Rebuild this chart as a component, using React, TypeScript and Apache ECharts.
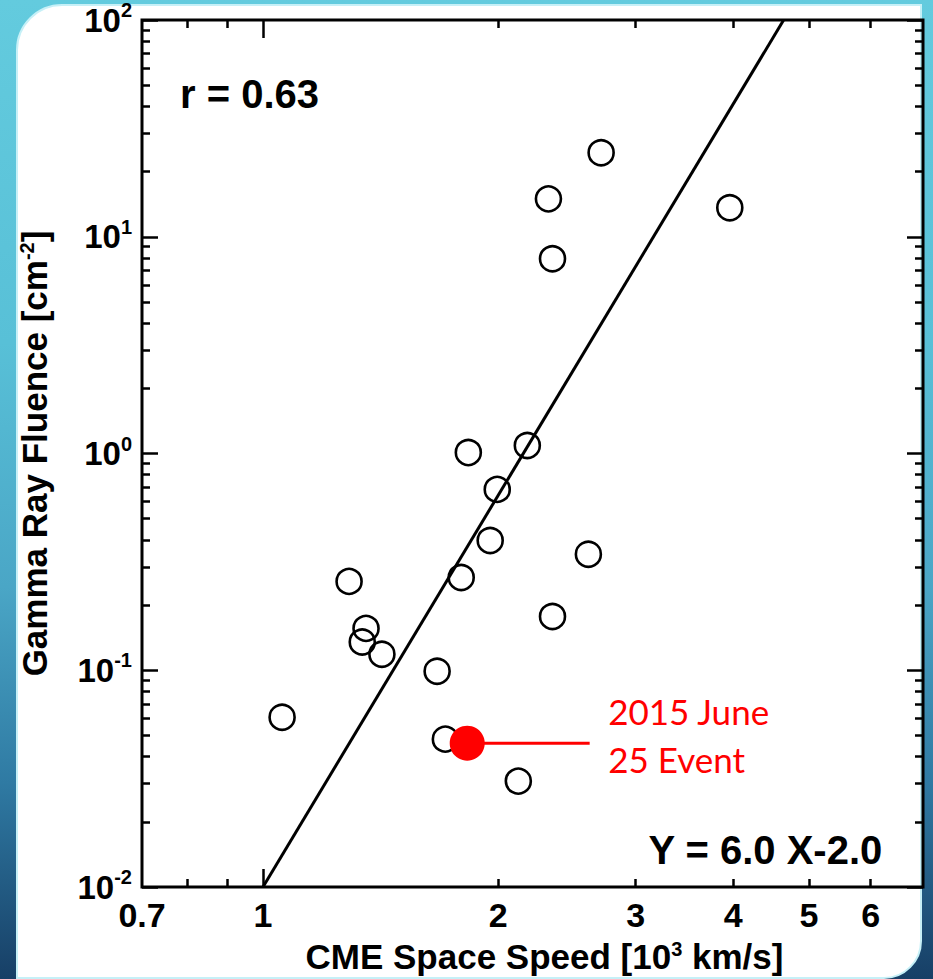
import React, { useEffect, useRef } from "react";
import * as echarts from "echarts";

// CME space speed [10^3 km/s] and gamma-ray fluence [cm^-2] (open circles)
const speedX = [1.058, 1.289, 1.355, 1.34, 1.42, 1.671, 1.712, 1.794, 1.832, 1.954, 1.995, 2.123, 2.18, 2.348, 2.61, 2.348, 2.32, 2.71, 3.96];
const fluenceY = [0.0607, 0.257, 0.156, 0.135, 0.1185, 0.0989, 0.0481, 0.268, 1.01, 0.397, 0.683, 0.0308, 1.089, 0.177, 0.343, 7.92, 14.96, 24.4, 13.6];

// 2015 June 25 event (red dot)
const eventX = [1.826];
const eventY = [0.0461];
const calloutEndX = 2.62;
const eventLabel = "2015 June\n25 Event";

// fit line: log Y = 6.0 log X - 2.0
const fitX = [1, 4.6416];
const fitY = [0.01, 100];

// axes
const xMin = 0.7;
const xMax = 7;
const yMin = 0.01;
const yMax = 100;
const xTickLabels = [0.7, 1, 2, 3, 4, 5, 6];
const xMajorTicks = [1];
const xMinorTicks = [0.8, 0.9, 2, 3, 4, 5, 6];
const yMajorTicks = [0.01, 0.1, 1, 10, 100];
const yMinorTicks = [
  0.02, 0.03, 0.04, 0.05, 0.06, 0.07, 0.08, 0.09,
  0.2, 0.3, 0.4, 0.5, 0.6, 0.7, 0.8, 0.9,
  2, 3, 4, 5, 6, 7, 8, 9,
  20, 30, 40, 50, 60, 70, 80, 90,
];

const rText = "r = 0.63";
const eqText = "Y = 6.0 X-2.0";
const xTitle = "CME Space Speed [10{s|3} km/s]";
const yTitle = "Gamma Ray Fluence [cm{s|-2}]";

const FONT = '"Liberation Sans", Arial, Helvetica, sans-serif';

export default function App() {
  const ref = useRef<HTMLDivElement>(null);

  useEffect(() => {
    if (!ref.current) return;
    const chart = echarts.init(ref.current, undefined, { renderer: "svg" });

    const tickStyle = { color: "#000", width: 2.5 };
    const hiddenLabel = { show: false };
    const supStyle = { fontFamily: FONT, fontWeight: "bold", fontSize: 20, verticalAlign: "top", lineHeight: 18, color: "#000" };

    const xAxisBase = (position: "top" | "bottom", ticks: number[], len: number, showLabel: boolean, withName: boolean) => ({
      type: "log",
      logBase: 10,
      min: xMin,
      max: xMax,
      position,
      gridIndex: 0,
      axisLine: { show: false },
      splitLine: { show: false },
      minorTick: { show: false },
      axisTick: { show: true, inside: true, length: len, lineStyle: tickStyle, customValues: ticks },
      axisLabel: showLabel
        ? {
            show: true,
            customValues: xTickLabels,
            margin: 11,
            color: "#000",
            fontFamily: FONT,
            fontWeight: "bold",
            fontSize: 34,
            formatter: (v: number) => String(Math.round(v * 10) / 10),
          }
        : hiddenLabel,
      name: withName ? xTitle : "",
      nameLocation: "middle",
      nameGap: 52,
      nameTextStyle: {
        color: "#000",
        fontFamily: FONT,
        fontWeight: "bold",
        fontSize: 35,
        padding: [0, 0, 0, 24],
        rich: { s: supStyle },
      },
    });

    const yAxisBase = (position: "left" | "right", ticks: number[], len: number, showLabel: boolean, withName: boolean) => ({
      type: "log",
      logBase: 10,
      min: yMin,
      max: yMax,
      position,
      gridIndex: 0,
      axisLine: { show: false },
      splitLine: { show: false },
      minorTick: { show: false },
      axisTick: { show: true, inside: true, length: len, lineStyle: tickStyle, customValues: ticks },
      axisLabel: showLabel
        ? {
            show: true,
            customValues: yMajorTicks,
            margin: 10,
            color: "#000",
            formatter: (v: number) => `{b|10}{s|${Math.round(Math.log10(v))}}`,
            rich: {
              b: { fontFamily: FONT, fontWeight: "bold", fontSize: 33, lineHeight: 40, color: "#000" },
              s: { fontFamily: FONT, fontWeight: "bold", fontSize: 20, lineHeight: 18, verticalAlign: "top", color: "#000" },
            },
          }
        : hiddenLabel,
      name: withName ? yTitle : "",
      nameLocation: "middle",
      nameGap: 90,
      nameTextStyle: {
        color: "#000",
        fontFamily: FONT,
        fontWeight: "bold",
        fontSize: 35,
        rich: { s: supStyle },
      },
    });

    const option: any = {
      animation: false,
      backgroundColor: "transparent",
      grid: {
        left: 142,
        right: 10,
        top: 19,
        bottom: 92,
        show: true,
        borderColor: "#000",
        borderWidth: 3,
        backgroundColor: "transparent",
        containLabel: false,
      },
      xAxis: [
        xAxisBase("bottom", xMajorTicks, 18, true, true),
        xAxisBase("bottom", xMinorTicks, 8, false, false),
        xAxisBase("top", xMajorTicks, 18, false, false),
        xAxisBase("top", xMinorTicks, 8, false, false),
      ],
      yAxis: [
        yAxisBase("left", yMajorTicks, 16, true, true),
        yAxisBase("left", yMinorTicks, 8, false, false),
        yAxisBase("right", yMajorTicks, 16, false, false),
        yAxisBase("right", yMinorTicks, 8, false, false),
      ],
      series: [
        {
          type: "line",
          xAxisIndex: 0,
          yAxisIndex: 0,
          data: fitX.map((x, i) => [x, fitY[i]]),
          showSymbol: false,
          symbol: "none",
          lineStyle: { color: "#000", width: 3 },
          z: 2,
        },
        {
          type: "scatter",
          xAxisIndex: 0,
          yAxisIndex: 0,
          data: speedX.map((x, i) => [x, fluenceY[i]]),
          symbol: "circle",
          symbolSize: 25,
          itemStyle: { color: "rgba(0,0,0,0)", borderColor: "#000", borderWidth: 2.6, opacity: 1 },
          z: 3,
        },
        {
          type: "line",
          xAxisIndex: 0,
          yAxisIndex: 0,
          data: [
            [eventX[0], eventY[0]],
            [calloutEndX, eventY[0]],
          ],
          showSymbol: false,
          symbol: "none",
          lineStyle: { color: "#ff0000", width: 3 },
          z: 4,
        },
        {
          type: "scatter",
          xAxisIndex: 0,
          yAxisIndex: 0,
          data: eventX.map((x, i) => [x, eventY[i]]),
          symbol: "circle",
          symbolSize: 35,
          itemStyle: { color: "#ff0000", opacity: 1 },
          z: 5,
        },
        {
          type: "scatter",
          xAxisIndex: 0,
          yAxisIndex: 0,
          data: [[calloutEndX, eventY[0]]],
          symbol: "circle",
          symbolSize: 1,
          itemStyle: { color: "rgba(0,0,0,0)", opacity: 1 },
          label: {
            show: true,
            position: "right",
            distance: 18,
            offset: [0, -8],
            formatter: eventLabel,
            color: "#ff0000",
            opacity: 1,
            fontFamily: 'Lato, "Open Sans", sans-serif',
            fontSize: 35,
            lineHeight: 48,
          },
          z: 5,
        },
      ],
      graphic: [
        {
          type: "text",
          left: 180,
          top: 74,
          style: {
            text: rText,
            fill: "#000",
            font: `bold 40px ${FONT}`,
          },
          z: 10,
        },
        {
          type: "text",
          right: 50,
          top: 830,
          style: {
            text: eqText,
            fill: "#000",
            font: `bold 40px ${FONT}`,
          },
          z: 10,
        },
      ],
    };

    chart.setOption(option);
    return () => chart.dispose();
  }, []);

  return (
    <div
      style={{
        position: "fixed",
        left: 0,
        top: 0,
        width: 933,
        height: 979,
        overflow: "hidden",
        background: "linear-gradient(to bottom, #63cbde 0%, #58c0d7 35%, #4aa6c6 60%, #2f7aa3 80%, #173f66 100%)",
      }}
    >
      <div
        style={{
          position: "absolute",
          left: 16,
          top: 4,
          width: 906,
          height: 975,
          background: "#fff",
          border: "2px solid #c6f0f7",
          borderRadius: "46px 0 38px 0",
          boxSizing: "border-box",
        }}
      />
      <div ref={ref} style={{ position: "absolute", left: 0, top: 0, width: 933, height: 979 }} />
    </div>
  );
}
